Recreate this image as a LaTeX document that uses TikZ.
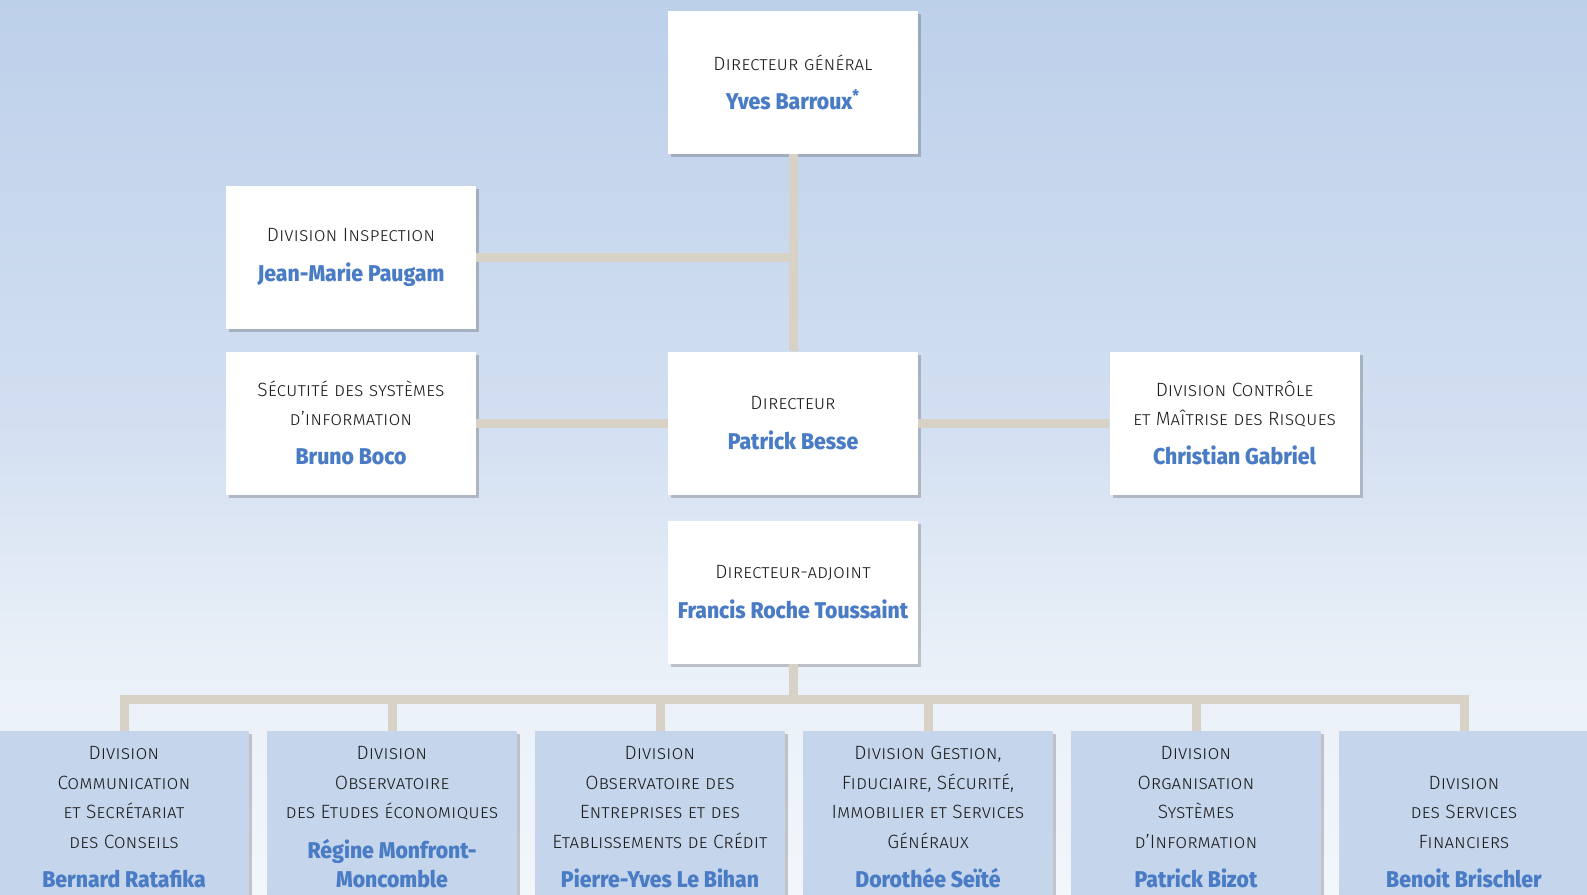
\documentclass[tikz,border=0pt]{standalone}
\usepackage{fontspec}
\usetikzlibrary{shadows}
\newfontfamily\titlefont{Fira Sans Light}[Letters=SmallCaps]
\newfontfamily\namefont{Fira Sans ExtraBold}[FakeStretch=0.93]

\definecolor{namec}{HTML}{4A7CC5}
\definecolor{titlec}{HTML}{1E1E1E}
\definecolor{linkc}{HTML}{D8D1C5}
\definecolor{divfill}{HTML}{C4D5EC}
\definecolor{bgtop}{HTML}{BDD0EA}
\definecolor{bgmid}{HTML}{D2DFF1}
\definecolor{bglow}{HTML}{EAF0F8}
\definecolor{bgbot}{HTML}{F3F6FB}

\newcommand{\who}[1]{{\namefont\fontsize{11.4}{14.7}\selectfont\color{namec}#1}}

\tikzset{
  unit/.style={rectangle, fill=white, minimum width=125pt, minimum height=71.5pt,
    align=center, text=titlec, font=\titlefont\fontsize{9.6}{14.7}\selectfont,
    drop shadow={shadow xshift=1.5pt, shadow yshift=-1.5pt, opacity=.25, fill=black!80}},
  division/.style={unit, fill=divfill, minimum height=0pt, anchor=north,
    inner ysep=2pt, text height=76pt, text depth=8pt},
  link/.style={draw=linkc, line width=4.5pt},
}

\begin{document}
\begin{tikzpicture}[x=0.5pt,y=-0.5pt]
\useasboundingbox (0,0) rectangle (1587,895);
\clip (0,0) rectangle (1587,895);
% sky
\shade[top color=bgtop,bottom color=bgmid] (0,0) rectangle (1587,421);
\shade[top color=bgmid,bottom color=bglow] (0,420) rectangle (1587,661);
\shade[top color=bglow,bottom color=bgbot] (0,660) rectangle (1587,895);

% direction
\node[unit] (dg) at (793,82.5) {Directeur général\\[5pt]\who{Yves Barroux\textsuperscript{*}}};
\node[unit] (insp) at (351,257.5) {Division Inspection\\[5pt]\who{Jean-Marie Paugam}};
\node[unit] (sec) at (351,423) {Sécutité des systèmes\\d’information\\[5pt]\who{Bruno Boco}};
\node[unit] (dir) at (793,423) {Directeur\\[5pt]\who{Patrick Besse}};
\node[unit] (ctrl) at (1234.5,423) {Division Contrôle\\et Maîtrise des Risques\\[5pt]\who{Christian Gabriel}};
\node[unit] (adj) at (793,592) {Directeur-adjoint\\[5pt]\who{Francis Roche Toussaint}};

% divisions
\node[division] (d1) at (124,731) {Division\\Communication\\et Secrétariat\\des Conseils\\[5pt]\who{Bernard Ratafika}};
\node[division] (d2) at (392,731) {Division\\Observatoire\\des Etudes économiques\\[5pt]\who{Régine Monfront-}\\\who{Moncomble}};
\node[division] (d3) at (660,731) {Division\\Observatoire des\\Entreprises et des\\Etablissements de Crédit\\[5pt]\who{Pierre-Yves Le Bihan}};
\node[division] (d4) at (928,731) {Division Gestion,\\Fiduciaire, Sécurité,\\Immobilier et Services\\Généraux\\[5pt]\who{Dorothée Seïté}};
\node[division] (d5) at (1196,731) {Division\\Organisation\\Systèmes\\d’Information\\[5pt]\who{Patrick Bizot}};
\node[division] (d6) at (1464,731) {Division\\des Services\\Financiers\\[5pt]\who{Benoit Brischler}};

% links
\coordinate (bus) at (793,699);
\draw[link] (dg) -- (dir);
\draw[link] (insp) -- (insp -| dg);
\draw[link] (sec) -- (dir);
\draw[link] (dir) -- (ctrl);
\draw[link] (adj) -- (bus);
\draw[link] (d1.north) |- (bus) -| (d6.north);
\foreach \i in {2,...,5}
\draw[link] (d\i) -- (d\i |- bus);
\end{tikzpicture}
\end{document}
